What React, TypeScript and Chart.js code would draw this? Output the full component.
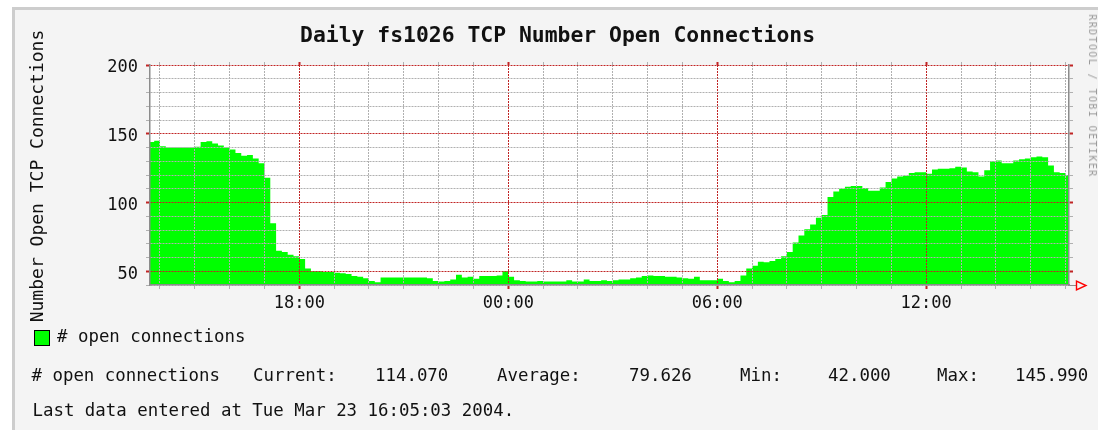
import React, { useEffect, useRef } from "react";
import { Chart, registerables } from "chart.js";

Chart.register(...registerables);

// ---------- data ----------
const chartTitle = "Daily fs1026 TCP Number Open Connections";
const yAxisTitle = "Number Open TCP Connections";
const seriesLabel = "# open connections";
const sideCredit = "RRDTOOL / TOBI OETIKER";
const lastDataText = "Last data entered at Tue Mar 23 16:05:03 2004.";

// samples every 10 minutes, first sample at 13:40 (hours past midnight of day 1)
const sampleStartHour = 13 + 40 / 60;
const sampleStepMinutes = 10;
const openConnections: number[] = [
  // 13:40 13:50
  144, 145,
  // 14
  141, 140, 140, 140, 140, 140,
  // 15
  140.5, 144, 144.5, 143, 141.5, 140,
  // 16
  138.5, 136, 134, 134.5, 132, 128.5,
  // 17
  118, 85, 65, 64, 62, 61,
  // 18
  59, 52, 50, 50, 49.5, 49.5,
  // 19
  49, 48.5, 48, 46.5, 46, 45,
  // 20
  43, 42, 45.5, 45.5, 45.5, 45.5,
  // 21
  45.5, 45.5, 45.5, 45.5, 45, 43,
  // 22
  42.5, 43, 44, 47.5, 45.5, 46,
  // 23
  44.5, 46.5, 46.5, 46.5, 47, 50,
  // 00
  46, 43.5, 43, 42.5, 42.5, 43,
  // 01
  42.5, 42.5, 42.5, 42.5, 43.5, 42.5,
  // 02
  42.5, 44, 43, 43, 43.5, 43,
  // 03
  43.5, 44, 44, 45, 45.5, 46.5,
  // 04
  47, 46.5, 46.5, 46, 46, 45.5,
  // 05
  45, 44.5, 46, 43.5, 43.5, 43.5,
  // 06
  44.5, 43, 42, 43, 47, 52,
  // 07
  54, 57, 56.5, 57.5, 59, 61,
  // 08
  64, 71, 76, 80.5, 84, 89,
  // 09
  91, 104, 108, 110, 111.5, 112,
  // 10
  112, 110.5, 108.5, 108.5, 111, 115,
  // 11
  117.5, 119, 119.5, 121.5, 122, 122,
  // 12
  121, 124, 124.5, 124.5, 125, 126,
  // 13
  125.5, 122.5, 122, 119, 123.5, 130,
  // 14
  130.5, 128.5, 128.5, 130.5, 131.5, 132,
  // 15
  133, 133.5, 133, 127, 122, 121.5,
  // 16
  120, 114,
];

const xMinHour = 13.713; // 13:43
const xMaxHour = 40.1; // 16:06 next day
const hourTicks = [14, 15, 16, 17, 18, 19, 20, 21, 22, 23, 24, 25, 26, 27, 28, 29, 30, 31, 32, 33, 34, 35, 36, 37, 38, 39, 40];
const xLabelHours = [18, 24, 30, 36];
const xLabelTexts = ["18:00", "00:00", "06:00", "12:00"];
const yMin = 40;
const yMax = 200;
const yTickValues = [40, 50, 60, 70, 80, 90, 100, 110, 120, 130, 140, 150, 160, 170, 180, 190, 200];
const yLabelValues = [50, 100, 150, 200];

const statNames = ["Current:", "Average:", "Min:", "Max:"];
const statValues = ["114.070", "79.626", "42.000", "145.990"];

// ---------- styles ----------
const W = 1098;
const H = 432;
const PLOT_LEFT = 150;
const PLOT_TOP = 65;
const PLOT_RIGHT = 1069;
const PLOT_BOTTOM = 285;
const GREEN = "#00ff00";
const MAJOR = "#c02424";
const MINOR = "#b0b0b0";
const AXIS = "#8c8c8c";
const MONO = "'DejaVu Sans Mono', 'Liberation Mono', monospace";

type TProps = { x: number; baseline: number; size: number; text: string; bold?: boolean; color?: string };
function T({ x, baseline, size, text, bold, color }: TProps) {
  return (
    <div
      style={{
        position: "absolute",
        left: x,
        top: baseline - 0.846 * size,
        fontFamily: MONO,
        fontSize: size,
        lineHeight: `${size}px`,
        fontWeight: bold ? "bold" : "normal",
        color: color || "#111",
        whiteSpace: "pre",
      }}
    >
      {text}
    </div>
  );
}

const plotBackground = {
  id: "plotBackground",
  beforeDraw(chart: any) {
    const { ctx, chartArea: a } = chart;
    ctx.save();
    ctx.fillStyle = "#ffffff";
    ctx.fillRect(a.left, a.top, a.right - a.left, a.bottom - a.top);
    ctx.restore();
  },
};

const axisArrow = {
  id: "axisArrow",
  afterDraw(chart: any) {
    const { ctx, chartArea: a } = chart;
    const y = Math.round(a.bottom) + 0.5;
    const r = Math.round(a.right);
    ctx.save();
    ctx.lineWidth = 1;
    ctx.strokeStyle = AXIS;
    ctx.beginPath();
    ctx.moveTo(r, y);
    ctx.lineTo(r + 7, y);
    ctx.stroke();
    ctx.strokeStyle = "#ff0000";
    ctx.lineWidth = 1.4;
    ctx.beginPath();
    ctx.moveTo(r + 7.5, y - 4.5);
    ctx.lineTo(r + 7.5, y + 4.5);
    ctx.lineTo(r + 17, y);
    ctx.closePath();
    ctx.stroke();
    ctx.restore();
  },
};

export default function App() {
  const canvasRef = useRef<HTMLCanvasElement>(null);

  useEffect(() => {
    const canvas = canvasRef.current;
    if (!canvas) return;
    const points = openConnections.map((v, i) => ({
      x: sampleStartHour + (i * sampleStepMinutes) / 60,
      y: v,
    }));
    const isMajorX = (v: number) => xLabelHours.includes(v);
    const isMajorY = (v: number) => yLabelValues.includes(v);
    const xColor = (c: any) => (c.tick && isMajorX(c.tick.value) ? MAJOR : MINOR);
    const yColor = (c: any) => (c.tick && isMajorY(c.tick.value) ? MAJOR : MINOR);
    const xTickW = (c: any) => (c.tick && isMajorX(c.tick.value) ? 2 : 1);
    const yTickW = (c: any) => (c.tick && isMajorY(c.tick.value) ? 2 : 1);
    const tickFont = { family: MONO, size: 17 };
    const setXTicks = (s: any) => {
      s.ticks = hourTicks.map((v) => ({ value: v }));
    };
    const setYTicks = (s: any) => {
      s.ticks = yTickValues.map((v) => ({ value: v }));
    };

    const chart = new Chart(canvas, {
      type: "line",
      data: {
        datasets: [
          {
            label: seriesLabel,
            data: points,
            stepped: "before",
            fill: "start",
            backgroundColor: GREEN,
            borderColor: GREEN,
            borderWidth: 0,
            pointRadius: 0,
          } as any,
        ],
      },
      options: {
        animation: false,
        responsive: false,
        maintainAspectRatio: false,
        events: [],
        layout: { padding: 0 },
        plugins: {
          legend: { display: false },
          title: { display: false },
          tooltip: { enabled: false },
        },
        scales: {
          x: {
            type: "linear",
            position: "bottom",
            min: xMinHour,
            max: xMaxHour,
            afterBuildTicks: setXTicks,
            afterFit: (s: any) => {
              s.height = H - PLOT_BOTTOM;
            },
            ticks: {
              autoSkip: false,
              maxRotation: 0,
              minRotation: 0,
              padding: 4,
              font: tickFont,
              color: "#111",
              callback: (v: any) => {
                const i = xLabelHours.indexOf(Number(v));
                return i >= 0 ? xLabelTexts[i] : "";
              },
            },
            grid: { color: xColor, tickColor: xColor, tickWidth: xTickW, lineWidth: 1, tickLength: 4, z: 1 },
            border: { display: true, color: AXIS, width: 1.5, dash: [2, 1], z: 2 },
          } as any,
          xTop: {
            type: "linear",
            position: "top",
            min: xMinHour,
            max: xMaxHour,
            afterBuildTicks: setXTicks,
            afterFit: (s: any) => {
              s.height = PLOT_TOP;
            },
            ticks: { display: false, autoSkip: false },
            grid: { color: xColor, tickColor: xColor, tickWidth: xTickW, drawOnChartArea: false, tickLength: 3, z: 1 },
            border: { display: false },
          } as any,
          y: {
            type: "linear",
            position: "left",
            min: yMin,
            max: yMax,
            afterBuildTicks: setYTicks,
            afterFit: (s: any) => {
              s.width = PLOT_LEFT;
            },
            ticks: {
              autoSkip: false,
              padding: 8,
              labelOffset: 3,
              font: tickFont,
              color: "#111",
              callback: (v: any) => (yLabelValues.includes(Number(v)) ? String(v) : ""),
            },
            grid: { color: yColor, tickColor: yColor, tickWidth: yTickW, lineWidth: 1, tickLength: 4, z: 1 },
            border: { display: true, color: AXIS, width: 1.5, dash: [2, 1], z: 2 },
          } as any,
          yRight: {
            type: "linear",
            position: "right",
            min: yMin,
            max: yMax,
            afterBuildTicks: setYTicks,
            afterFit: (s: any) => {
              s.width = W - PLOT_RIGHT;
            },
            ticks: { display: false, autoSkip: false },
            grid: { color: yColor, tickColor: yColor, tickWidth: yTickW, drawOnChartArea: false, tickLength: 4, z: 1 },
            border: { display: true, color: AXIS, width: 1.5, z: 2 },
          } as any,
        },
      },
      plugins: [plotBackground, axisArrow],
    });
    return () => chart.destroy();
  }, []);

  const statX = { name: 31.5, cur: [253, 375], avg: [497, 629], min: [740, 828], max: [937, 1015] };

  return (
    <div style={{ position: "absolute", left: 0, top: 0, width: W, height: H, background: "#ffffff", overflow: "hidden" }}>
      <div
        style={{
          position: "absolute",
          left: 12,
          top: 7,
          width: W - 12,
          height: 423,
          boxSizing: "border-box",
          background: "#f4f4f4",
          borderTop: "3px solid #cdcdcd",
          borderLeft: "3px solid #cdcdcd",
        }}
      />
      <canvas ref={canvasRef} width={W} height={H} style={{ position: "absolute", left: 0, top: 0, width: W, height: H }} />

      <T x={300} baseline={41.7} size={21.4} bold text={chartTitle} />

      <div
        style={{
          position: "absolute",
          left: 36.5,
          top: 175.5,
          transform: "translate(-50%, -50%) rotate(-90deg)",
          fontFamily: MONO,
          fontSize: 18,
          lineHeight: "18px",
          color: "#111",
          whiteSpace: "pre",
        }}
      >
        {yAxisTitle}
      </div>

      <div
        style={{
          position: "absolute",
          left: 1091.8,
          top: 96,
          transform: "translate(-50%, -50%) rotate(90deg)",
          fontFamily: MONO,
          fontSize: 10,
          letterSpacing: 1.4,
          lineHeight: "10px",
          color: "#9a9a9a",
          whiteSpace: "pre",
        }}
      >
        {sideCredit}
      </div>

      <div
        style={{
          position: "absolute",
          left: 34,
          top: 330,
          width: 14,
          height: 14,
          background: GREEN,
          border: "1px solid #000",
        }}
      />
      <T x={57} baseline={342.5} size={17.4} text={seriesLabel} />

      <T x={statX.name} baseline={382} size={17.4} text={seriesLabel} />
      <T x={statX.cur[0]} baseline={382} size={17.4} text={statNames[0]} />
      <T x={statX.cur[1]} baseline={382} size={17.4} text={statValues[0]} />
      <T x={statX.avg[0]} baseline={382} size={17.4} text={statNames[1]} />
      <T x={statX.avg[1]} baseline={382} size={17.4} text={statValues[1]} />
      <T x={statX.min[0]} baseline={382} size={17.4} text={statNames[2]} />
      <T x={statX.min[1]} baseline={382} size={17.4} text={statValues[2]} />
      <T x={statX.max[0]} baseline={382} size={17.4} text={statNames[3]} />
      <T x={statX.max[1]} baseline={382} size={17.4} text={statValues[3]} />

      <T x={32.5} baseline={416.5} size={17.4} text={lastDataText} />
    </div>
  );
}
